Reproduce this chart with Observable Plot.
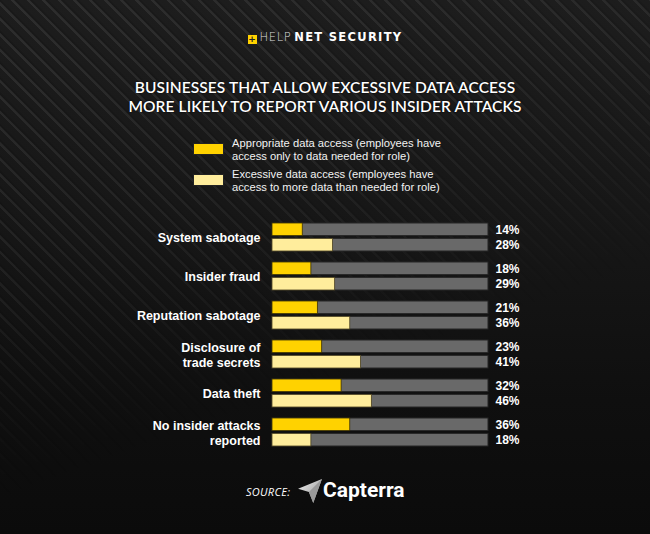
<!DOCTYPE html>
<html>
<head>
<meta charset="utf-8">
<script src="https://cdn.jsdelivr.net/npm/d3@7"></script>
<script src="https://cdn.jsdelivr.net/npm/@observablehq/plot@0.6"></script>
<style>
  html, body { margin: 0; padding: 0; background: #111; }
  #wrap {
    position: relative; width: 650px; height: 534px; overflow: hidden;
    background: linear-gradient(180deg, #1d1d1d 0%, #161616 45%, #0f0f0f 75%, #0b0b0b 100%);
    font-family: Lato, "Open Sans", sans-serif; color: #fff;
  }
  #stripes {
    position: absolute; left: 0; top: 0; width: 650px; height: 534px;
    background: repeating-linear-gradient(45deg, rgba(255,255,255,0.08) 0px, rgba(255,255,255,0.08) 2px, rgba(0,0,0,0.18) 3px, transparent 5px, transparent 11px);
    -webkit-mask-image: linear-gradient(160deg, rgba(0,0,0,1) 0%, rgba(0,0,0,0.7) 35%, rgba(0,0,0,0) 65%);
    mask-image: linear-gradient(160deg, rgba(0,0,0,1) 0%, rgba(0,0,0,0.7) 35%, rgba(0,0,0,0) 65%);
  }
  .abs { position: absolute; }
  #logo { left: 0; width: 650px; top: 28px; text-align: center; white-space: nowrap; line-height: 13px; }
  #logo .sq { display: inline-block; width: 9px; height: 9px; background: #ffd200; color: #222; font: bold 9px/9px "DejaVu Sans", sans-serif; text-align: center; vertical-align: -1px; margin-right: 3px; }
  #logo .help { font-family: "DejaVu Sans", sans-serif; font-weight: 300; letter-spacing: 0.6px; font-size: 11.5px; color: #ddd; }
  #logo .net { font-family: "DejaVu Sans", sans-serif; font-weight: 700; font-size: 11.5px; letter-spacing: 1.3px; margin-left: 3px; }
  #title div { height: 19px; }
  #title { left: 0; width: 650px; top: 78px; text-align: center; font-size: 15.5px; line-height: 19px; font-weight: 600; letter-spacing: 0.1px; text-shadow: 0 0 2px #000; }
  .sw { width: 31px; height: 12px; border: 1px solid #222; box-sizing: border-box; }
  .lg { font-family: "Liberation Sans", Arial, sans-serif; font-size: 11.2px; line-height: 13px; color: #f2f2f2; }
  .lg div { height: 13px; line-height: 13px; white-space: nowrap; }
  #plot { left: 0; top: 200px; }
  #source { left: 246px; top: 484px; font-size: 11px; font-style: italic; font-family: "Open Sans", sans-serif; letter-spacing: 0.3px; }
  #capterra { left: 323px; top: 477px; font-family: Roboto, sans-serif; font-weight: 700; font-size: 21px; line-height: 26px; }
</style>
</head>
<body>
<div id="wrap">
  <div id="stripes"></div>
  <div id="logo" class="abs"><span class="sq">+</span><span class="help">HELP</span><span class="net">NET SECURITY</span></div>
  <div id="title" class="abs"></div>
  <div id="sw1" class="abs sw" style="left:193px; top:143px;"></div>
  <div id="lg1" class="abs lg" style="left:232px; top:137px;"></div>
  <div id="sw2" class="abs sw" style="left:193px; top:174px;"></div>
  <div id="lg2" class="abs lg" style="left:232px; top:168px;"></div>
  <div id="plot" class="abs"></div>
  <div id="source" class="abs">SOURCE:</div>
  <svg class="abs" style="left:297px; top:478px;" width="26" height="26" viewBox="0 0 24 24">
    <defs><linearGradient id="cg" x1="0" y1="0" x2="1" y2="1"><stop offset="0" stop-color="#f2f2f2"/><stop offset="1" stop-color="#8a8a8a"/></linearGradient></defs>
    <polygon points="23,1 1,10 11,13 15,23" fill="url(#cg)"/>
    <polygon points="23,1 11,13 15,23" fill="#9a9a9a"/>
  </svg>
  <div id="capterra" class="abs">Capterra</div>
</div>
<script>
// ---- data ----
const titleLines = ["BUSINESSES THAT ALLOW EXCESSIVE DATA ACCESS", "MORE LIKELY TO REPORT VARIOUS INSIDER ATTACKS"];
const seriesNames = ["Appropriate data access (employees have\naccess only to data needed for role)",
                     "Excessive data access (employees have\naccess to more data than needed for role)"];
const seriesColors = ["#ffd200", "#ffed9c"];
const categories = ["System sabotage", "Insider fraud", "Reputation sabotage", "Disclosure of trade secrets", "Data theft", "No insider attacks reported"];
const categoryLabels = ["System sabotage", "Insider fraud", "Reputation sabotage", "Disclosure of\ntrade secrets", "Data theft", "No insider attacks\nreported"];
const appropriate = [14, 18, 21, 23, 32, 36];
const excessive = [28, 29, 36, 41, 46, 18];

// ---- text parts ----
function lines(el, text) {
  text.split("\n").forEach(t => { const d = document.createElement("div"); d.textContent = t; el.appendChild(d); });
}
lines(document.getElementById("title"), titleLines.join("\n"));
lines(document.getElementById("lg1"), seriesNames[0]);
lines(document.getElementById("lg2"), seriesNames[1]);
document.getElementById("sw1").style.background = seriesColors[0];
document.getElementById("sw2").style.background = seriesColors[1];

const rows = categories.map((c, i) => ({category: c, label: categoryLabels[i], appropriate: appropriate[i], excessive: excessive[i]}));

const half = 15.4;
const chart = Plot.plot({
  width: 650, height: 260,
  marginLeft: 272, marginRight: 162, marginTop: 21, marginBottom: 12,
  style: {background: "transparent", color: "#fff", fontFamily: "'Liberation Sans', Arial, sans-serif"},
  x: {domain: [0, 100], axis: null},
  y: {domain: categories, axis: null, paddingInner: 0.29, paddingOuter: 0},
  marks: [
    Plot.barX(rows, {y: "category", x1: 0, x2: 100, fill: "#696969", stroke: "#262626", strokeWidth: 1, insetBottom: half}),
    Plot.barX(rows, {y: "category", x1: 0, x2: 100, fill: "#696969", stroke: "#262626", strokeWidth: 1, insetTop: half}),
    Plot.barX(rows, {y: "category", x1: 0, x2: "appropriate", fill: seriesColors[0], stroke: "#3a3000", strokeWidth: 0.8, insetBottom: half}),
    Plot.barX(rows, {y: "category", x1: 0, x2: "excessive", fill: seriesColors[1], stroke: "#4a4020", strokeWidth: 0.8, insetTop: half}),
    Plot.text(rows, {y: "category", x: 100, text: d => d.appropriate + "%", dx: 7, dy: -7.5, textAnchor: "start", fill: "#fff", fontSize: 12, fontWeight: 700}),
    Plot.text(rows, {y: "category", x: 100, text: d => d.excessive + "%", dx: 7, dy: 7.5, textAnchor: "start", fill: "#fff", fontSize: 12, fontWeight: 700}),
    Plot.text(rows, {y: "category", x: 0, text: "label", dx: -12, textAnchor: "end", fill: "#fff", fontSize: 12.5, fontWeight: 700, lineHeight: 1.2})
  ]
});
document.getElementById("plot").appendChild(chart);
</script>
</body>
</html>
